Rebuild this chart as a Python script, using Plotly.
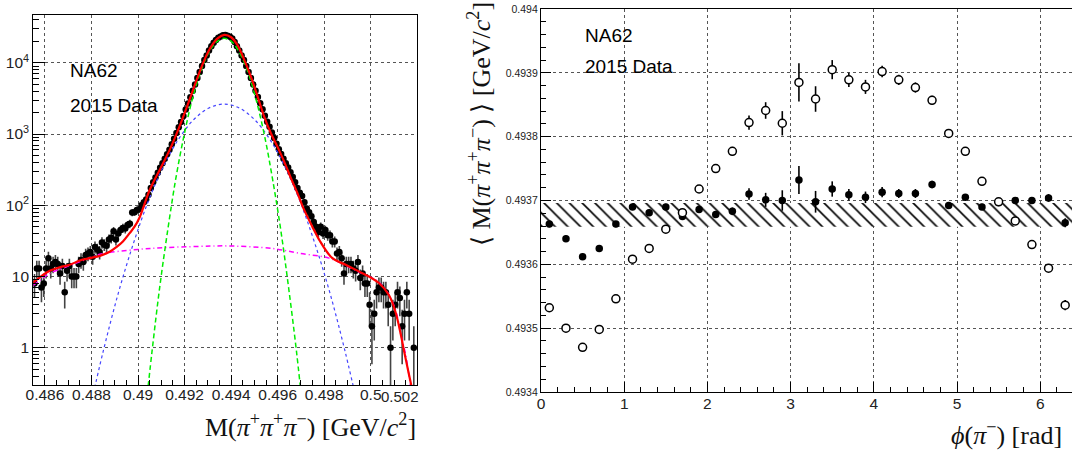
import numpy as np
import plotly.graph_objects as go

W, H = 1072, 450

# ---------------- left panel: invariant mass histogram ----------------
mass_first = 0.48555   # centre of first bin [GeV/c^2]
mass_bin = 0.0001
counts = [
    8, 13, 13, 7, 8, 13, 18, 13, 15, 16, 15, 11, 14, 6, 12, 14, 10, 10, 10, 15,
    17, 16, 20, 21, 22, 19, 26, 24, 22, 30, 28, 27, 33, 35, 43, 33, 40, 45, 48, 47,
    53, 55, 79, 80, 86, 88, 100, 110, 120, 140, 175, 210, 245, 285, 335, 390, 450, 520, 600, 720,
    860, 1030, 1240, 1470, 1790, 2200, 2670, 3280, 4030, 4960, 6100, 7420, 9020, 10970, 12600, 14800, 17000, 19050, 20900, 22400,
    23450, 24270, 24550, 24000, 23170, 21900, 19500, 17000, 14800, 12600, 10970, 9020, 7420, 6100, 4960, 4030, 3300, 2700, 2220, 1800,
    1490, 1260, 1050, 880, 730, 610, 525, 450, 390, 340, 290, 250, 210, 175, 150, 135, 110, 90, 80, 70,
    58, 50, 42, 50, 40, 45, 38, 38, 31, 31, 21, 22, 18, 11, 15, 15, 15, 13, 12, 16,
    9.5, 11, 8, 8, 4, 2, 3, 6, 7, 7, 6, 6, 4, 1, 3, 4, 6, 5, 2, 3,
    6, 3, 0, 1, 0,
]
mass = [round(mass_first + mass_bin * i, 5) for i in range(len(counts))]

# fit curves (mass, value)
total_m = [0.48547, 0.48579, 0.48621, 0.48664, 0.48707, 0.48750, 0.48793, 0.48836, 0.48878, 0.48907,
           0.48935, 0.48964, 0.48985, 0.49007, 0.49050, 0.49093, 0.49136, 0.49178, 0.49221, 0.49257,
           0.49285, 0.49314, 0.49342, 0.49371, 0.49400, 0.49428, 0.49457, 0.49485, 0.49514, 0.49542,
           0.49571, 0.49599, 0.49628, 0.49657, 0.49685, 0.49714, 0.49749, 0.49778, 0.49835, 0.49892,
           0.49949, 0.49992, 0.50035, 0.50078, 0.50106, 0.50128, 0.50142, 0.50163, 0.50178]
total_v = [8.1, 9.8, 12.0, 13.5, 14.6, 16.8, 18.1, 19.5, 22.2, 25.8,
           31, 40.6, 50, 68, 164, 313, 598, 1270, 3010, 6380,
           10900, 16800, 22000, 24550, 22800, 17500, 10900, 6380, 3350, 1755,
           1025, 665, 410, 240, 148, 86, 50, 33, 18.1, 14.6,
           11.8, 10, 8.1, 5.5, 3.2, 1.6, 0.94, 0.44, 0.26]

narrow_m = [0.49025, 0.49060, 0.49094, 0.49129, 0.49163, 0.49198, 0.49232, 0.49267, 0.49301, 0.49336,
            0.49370, 0.49405, 0.49439, 0.49474, 0.49508, 0.49543, 0.49577, 0.49612, 0.49646, 0.49681, 0.49715]
narrow_v = [0.08, 0.88, 7.4, 48, 244, 966, 2980, 7140, 13300, 19400,
            22000, 19400, 13300, 7140, 2980, 966, 244, 48, 7.4, 0.88, 0.08]

wide_m = [0.48785, 0.48850, 0.48915, 0.48980, 0.49045, 0.49110, 0.49175, 0.49240, 0.49305,
          0.49370, 0.49435, 0.49500, 0.49565, 0.49630, 0.49695, 0.49760, 0.49825, 0.49890, 0.49955]
wide_v = [0.106, 0.88, 5.8, 29, 116, 356, 855, 1600, 2320,
          2630, 2320, 1600, 855, 356, 116, 29, 5.8, 0.88, 0.106]

bkg_m = [0.48550, 0.48620, 0.48700, 0.48770, 0.48836, 0.49000, 0.49121, 0.49310, 0.49378,
         0.49578, 0.49692, 0.49821, 0.49892, 0.49950, 0.50000, 0.50040, 0.50080, 0.50110, 0.50130, 0.50150, 0.50170]
bkg_v = [7.5, 11, 14, 17, 20.5, 24, 25.5, 26.7, 26.9,
         24.7, 21.2, 18.1, 14.3, 11.5, 9.8, 8, 5.4, 3.1, 1.5, 0.8, 0.3]

# ---------------- right panel: mean mass vs phi ----------------
phi = [0.1, 0.3, 0.5, 0.7, 0.9, 1.1, 1.3, 1.5, 1.7, 1.9, 2.1, 2.3, 2.5, 2.7, 2.9, 3.1,
       3.3, 3.5, 3.7, 3.9, 4.1, 4.3, 4.5, 4.7, 4.9, 5.1, 5.3, 5.5, 5.7, 5.9, 6.1, 6.3]
mean_open = [0.493532, 0.493500, 0.493470, 0.493498, 0.493546, 0.493608, 0.493625, 0.493655,
             0.493681, 0.493718, 0.493750, 0.493777, 0.493822, 0.493841, 0.493821, 0.493885,
             0.493859, 0.493905, 0.493889, 0.493878, 0.493902, 0.493889, 0.493877, 0.493857,
             0.493805, 0.493777, 0.493730, 0.493698, 0.493668, 0.493631, 0.493594, 0.493536]
err_open = [0.000006, 0.000006, 0.000006, 0.000006, 0.000006, 0.000006, 0.000006, 0.000006,
            0.000006, 0.000006, 0.000006, 0.000007, 0.000011, 0.000013, 0.000019, 0.000030,
            0.000020, 0.000015, 0.000011, 0.000011, 0.000009, 0.000008, 0.000008, 0.000007,
            0.000006, 0.000006, 0.000006, 0.000006, 0.000006, 0.000006, 0.000006, 0.000008]
mean_full = [0.493663, 0.493640, 0.493612, 0.493625, 0.493663, 0.493690, 0.493681, 0.493690,
             0.493675, 0.493686, 0.493678, 0.493683, 0.493710, 0.493701, 0.493700, 0.493732,
             0.493698, 0.493718, 0.493709, 0.493705, 0.493713, 0.493711, 0.493711, 0.493725,
             0.493692, 0.493705, 0.493690, 0.493697, 0.493700, 0.493700, 0.493704, 0.493665]
err_full = [0.000005, 0.000005, 0.000005, 0.000005, 0.000005, 0.000005, 0.000005, 0.000005,
            0.000005, 0.000005, 0.000005, 0.000006, 0.000009, 0.000011, 0.000016, 0.000022,
            0.000017, 0.000012, 0.000009, 0.000009, 0.000008, 0.000007, 0.000007, 0.000006,
            0.000005, 0.000005, 0.000005, 0.000005, 0.000005, 0.000005, 0.000006, 0.000007]
band_low, band_high = 0.493659, 0.493696

# ---------------- geometry (pixels) ----------------
L_x0, L_x1, L_y0, L_y1 = 33.3, 417.3, 15, 385
R_x0, R_x1, R_y0, R_y1 = 541, 1072, 9, 392
left_xrange = [0.4855, 0.5020]
left_yrange = [np.log10(0.3), np.log10(46800)]
right_xrange = [0.0, 6.382]
right_yrange = [0.4934, 0.4940]

def px(x):
    return x / W

def py(y):
    return 1 - y / H

fig = go.Figure()

# left panel traces
cnt = np.array(counts, dtype=float)
ys = [c if c > 0 else None for c in counts]
errs = list(np.sqrt(cnt))
fig.add_trace(go.Scatter(
    x=mass, y=ys, mode='markers', xaxis='x', yaxis='y',
    marker=dict(color='black', size=6.5),
    error_y=dict(type='data', array=errs, color='#444', thickness=1.6, width=0),
    showlegend=False))
fig.add_trace(go.Scatter(x=bkg_m, y=bkg_v, mode='lines', xaxis='x', yaxis='y',
                         line=dict(color='#ff00ff', width=1.5, dash='5px,3px,1px,3px', shape='spline'),
                         showlegend=False))
fig.add_trace(go.Scatter(x=wide_m, y=wide_v, mode='lines', xaxis='x', yaxis='y',
                         line=dict(color='#4444ff', width=1.2, dash='dot', shape='spline'),
                         showlegend=False))
fig.add_trace(go.Scatter(x=narrow_m, y=narrow_v, mode='lines', xaxis='x', yaxis='y',
                         line=dict(color='#00ee00', width=1.5, dash='5px,3px', shape='spline'),
                         showlegend=False))
fig.add_trace(go.Scatter(x=total_m, y=total_v, mode='lines', xaxis='x', yaxis='y',
                         line=dict(color='#ff0000', width=2.2, shape='spline'),
                         showlegend=False))

# right panel traces
fig.add_trace(go.Scatter(
    x=[right_xrange[0], right_xrange[1], right_xrange[1], right_xrange[0], right_xrange[0]],
    y=[band_low, band_low, band_high, band_high, band_low],
    mode='lines', fill='toself', xaxis='x2', yaxis='y2',
    line=dict(width=0, color='rgba(0,0,0,0)'),
    fillcolor='white',
    fillpattern=dict(shape='\\', fgcolor='black', bgcolor='white', size=9, solidity=0.18),
    showlegend=False))
fig.add_trace(go.Scatter(
    x=phi, y=mean_full, mode='markers', xaxis='x2', yaxis='y2',
    marker=dict(color='black', size=7.5),
    error_y=dict(type='data', array=err_full, color='black', thickness=1.6, width=0),
    showlegend=False))
fig.add_trace(go.Scatter(
    x=phi, y=mean_open, mode='markers', xaxis='x2', yaxis='y2',
    marker=dict(color='white', size=8, line=dict(color='black', width=1.5)),
    error_y=dict(type='data', array=err_open, color='black', thickness=1.6, width=0),
    showlegend=False))

grid = dict(showgrid=True, gridcolor='#555', griddash='dot', gridwidth=1)
frame = dict(showline=True, linecolor='black', linewidth=1.2, mirror=True, zeroline=False,
             automargin=False)
tickfont = dict(family='Liberation Sans, Arial, sans-serif', size=15.5, color='#222')

minor_lx = [round(0.4855 + 0.0005 * k, 4) for k in range(0, 34)]
minor_ly = [m * 10 ** e for e in range(-1, 5) for m in range(2, 10)]

fig.update_layout(
    template='none',
    width=W, height=H,
    margin=dict(l=0, r=0, t=0, b=0, autoexpand=False),
    paper_bgcolor='white', plot_bgcolor='white',
    xaxis=dict(domain=[px(L_x0), px(L_x1)], range=left_xrange, anchor='y',
               tickmode='array',
               tickvals=[0.486, 0.488, 0.490, 0.492, 0.494, 0.496, 0.498, 0.500],
               ticktext=['0.486', '0.488', '0.49', '0.492', '0.494', '0.496', '0.498', '0.5'],
               ticks='inside', ticklen=10, tickwidth=1.2, tickcolor='black', tickfont=tickfont,
               ticklabelstandoff=-5,
               minor=dict(tickmode='array', tickvals=minor_lx, ticks='inside', ticklen=5,
                          tickwidth=1.2, tickcolor='black', showgrid=False),
               **grid, **frame),
    yaxis=dict(domain=[py(L_y1), py(L_y0)], type='log', range=left_yrange, anchor='x',
               tickmode='array', tickvals=[1, 10, 100, 1000, 10000],
               ticktext=['1', '10', '10<sup>2</sup>', '10<sup>3</sup>', '10<sup>4</sup>'],
               ticks='inside', ticklen=12, tickwidth=1.2, tickcolor='black', tickfont=tickfont,
               minor=dict(tickmode='array', tickvals=minor_ly, ticks='inside', ticklen=6,
                          tickwidth=1.2, tickcolor='black', showgrid=False),
               **grid, **frame),
    xaxis2=dict(domain=[px(R_x0), px(R_x1)], range=right_xrange, anchor='y2',
                tickmode='array', tickvals=[0, 1, 2, 3, 4, 5, 6],
                ticks='inside', ticklen=10, tickwidth=1.2, tickcolor='black', tickfont=tickfont,
                ticklabelstandoff=-3,
                minor=dict(tickmode='linear', tick0=0, dtick=0.2, ticks='inside', ticklen=5,
                           tickwidth=1.2, tickcolor='black', showgrid=False),
                **grid, **frame),
    yaxis2=dict(domain=[py(R_y1), py(R_y0)], range=right_yrange, anchor='x2',
                tickmode='array',
                tickvals=[0.4934, 0.4935, 0.4936, 0.4937, 0.4938, 0.4939, 0.4940],
                ticktext=['0.4934', '0.4935', '0.4936', '0.4937', '0.4938', '0.4939', '0.494'],
                ticks='inside', ticklen=10, tickwidth=1.2, tickcolor='black',
                tickfont=dict(family='Liberation Sans, Arial, sans-serif', size=10.5, color='#222'),
                minor=dict(tickmode='linear', tick0=0.4934, dtick=0.00002, ticks='inside', ticklen=5,
                           tickwidth=1.2, tickcolor='black', showgrid=False),
                **grid, **frame),
)

serif = 'Liberation Serif, Times New Roman, serif'
sans = 'Liberation Sans, Arial, sans-serif'
ann = []
ann.append(dict(text='0.502', x=px(421), y=py(396), xref='paper', yref='paper',
                xanchor='right', yanchor='middle', showarrow=False,
                font=dict(family=sans, size=15, color='#222')))
ann.append(dict(text='M(<i>π</i><sup>+</sup><i>π</i><sup>+</sup><i>π</i><sup>−</sup>) [GeV/<i>c</i><sup>2</sup>]',
                x=px(418), y=py(425), xref='paper', yref='paper', xanchor='right', yanchor='middle',
                showarrow=False, font=dict(family=serif, size=26, color='#111')))
ann.append(dict(text='⟨ M(<i>π</i><sup>+</sup><i>π</i><sup>+</sup><i>π</i><sup>−</sup>) ⟩ [GeV/<i>c</i><sup>2</sup>]',
                x=px(479), y=py(0), xref='paper', yref='paper', xanchor='center', yanchor='top',
                textangle=-90, showarrow=False, font=dict(family=serif, size=26, color='#111')))
ann.append(dict(text='<i>ϕ</i>(<i>π</i><sup>−</sup>) [rad]',
                x=px(1064), y=py(433), xref='paper', yref='paper', xanchor='right', yanchor='middle',
                showarrow=False, font=dict(family=serif, size=26, color='#111')))
for (x0, y0) in [(68, 70), (583, 36)]:
    ann.append(dict(text='NA62', x=px(x0), y=py(y0), xref='paper', yref='paper',
                    xanchor='left', yanchor='middle', showarrow=False,
                    font=dict(family=sans, size=19, color='black')))
for (x0, y0) in [(68, 105), (583, 67)]:
    ann.append(dict(text='2015 Data', x=px(x0), y=py(y0), xref='paper', yref='paper',
                    xanchor='left', yanchor='middle', showarrow=False,
                    font=dict(family=sans, size=19, color='black')))
fig.update_layout(annotations=ann)

fig.write_html('out.html', config={'displayModeBar': False},
               post_script="document.body.style.margin='0';document.body.style.overflow='hidden';")
